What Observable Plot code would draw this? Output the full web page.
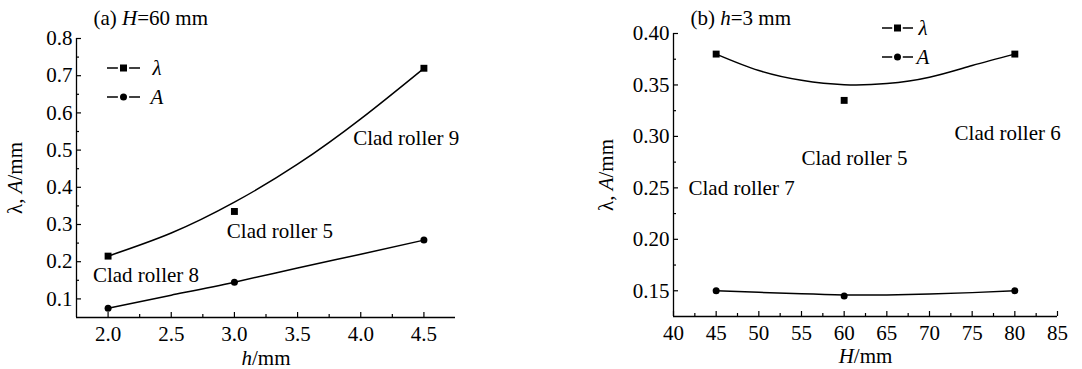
<!DOCTYPE html>
<html>
<head>
<meta charset="utf-8">
<script src="https://cdn.jsdelivr.net/npm/d3@7"></script>
<script src="https://cdn.jsdelivr.net/npm/@observablehq/plot@0.6"></script>
<style>
  html, body { margin: 0; padding: 0; background: #fff; }
  #wrap { display: flex; width: 1082px; height: 369px; }
  #wrap > div { width: 541px; height: 369px; position: relative; }
  svg { display: block; }
</style>
</head>
<body>
<div id="wrap"><div id="pa"></div><div id="pb"></div></div>
<script>
// ---------- Panel (a): H = 60 mm ----------
const hA = [2.0, 3.0, 4.5];
const lambdaA = [0.215, 0.335, 0.720];
const ampA = [0.075, 0.145, 0.258];
const hFitA = [2.0, 2.5, 3.0, 3.5, 4.0, 4.5];
const lambdaFitA = [0.215, 0.277, 0.360, 0.462, 0.584, 0.720];
const ampFitA = [0.075, 0.110, 0.145, 0.183, 0.220, 0.258];
const xTicksA = [2.0, 2.5, 3.0, 3.5, 4.0, 4.5];
const xMinorA = [2.25, 2.75, 3.25, 3.75, 4.25];
const yTicksA = [0.1, 0.2, 0.3, 0.4, 0.5, 0.6, 0.7, 0.8];
const yMinorA = [0.15, 0.25, 0.35, 0.45, 0.55, 0.65, 0.75];
const notesA = [
  {x: 3.94, y: 0.531, text: "Clad roller 9"},
  {x: 2.94, y: 0.283, text: "Clad roller 5"},
  {x: 1.88, y: 0.163, text: "Clad roller 8"}
];

// ---------- Panel (b): h = 3 mm ----------
const HB = [45, 60, 80];
const lambdaB = [0.380, 0.335, 0.380];
const ampB = [0.150, 0.145, 0.150];
const HFitB = [45, 50, 55, 60, 65, 70, 75, 80];
const lambdaFitB = [0.380, 0.364, 0.3545, 0.3502, 0.3513, 0.3575, 0.3689, 0.380];
const ampFitB = [0.150, 0.1485, 0.1470, 0.1460, 0.1460, 0.1468, 0.1482, 0.150];
const xTicksB = [40, 45, 50, 55, 60, 65, 70, 75, 80, 85];
const xMinorB = [42.5, 47.5, 52.5, 57.5, 62.5, 67.5, 72.5, 77.5, 82.5];
const yTicksB = [0.15, 0.20, 0.25, 0.30, 0.35, 0.40];
const yMinorB = [0.175, 0.225, 0.275, 0.325, 0.375];
const notesB = [
  {x: 72.94, y: 0.303, text: "Clad roller 6"},
  {x: 54.99, y: 0.279, text: "Clad roller 5"},
  {x: 41.76, y: 0.250, text: "Clad roller 7"}
];

const FONT = "Liberation Serif, Times New Roman, serif";
const FS = 21;

function zip(xs, ys) { return xs.map((x, i) => ({x, y: ys[i]})); }

function panel(cfg) {
  const W = 541, H = 369;
  const fw = W - cfg.ml - cfg.mr, fh = H - cfg.mt - cfg.mb;
  const chart = Plot.plot({
    width: W, height: H,
    marginLeft: cfg.ml, marginRight: cfg.mr, marginTop: cfg.mt, marginBottom: cfg.mb,
    style: {fontFamily: FONT, fontSize: FS + "px", background: "#fff", color: "#000", overflow: "visible"},
    x: {domain: cfg.xDomain},
    y: {domain: cfg.yDomain},
    marks: [
      Plot.ruleX([cfg.xDomain[0]], {stroke: "#000", strokeWidth: 1.3}),
      Plot.ruleY([cfg.yDomain[0]], {stroke: "#000", strokeWidth: 1.3}),
      Plot.tickX(cfg.xTicks, {x: d => d, insetTop: fh - 5, stroke: "#000", strokeWidth: 1.2}),
      Plot.tickX(cfg.xMinor, {x: d => d, insetTop: fh - 3, stroke: "#000", strokeWidth: 1.2}),
      Plot.tickY(cfg.yTicks, {y: d => d, insetRight: fw - 5, stroke: "#000", strokeWidth: 1.2}),
      Plot.tickY(cfg.yMinor, {y: d => d, insetRight: fw - 3, stroke: "#000", strokeWidth: 1.2}),
      Plot.axisX({ticks: cfg.xTicks, tickSize: 0, tickPadding: 9, tickFormat: cfg.xFmt,
        fontSize: FS, label: cfg.xLabel, labelAnchor: "center", labelOffset: cfg.xLabelOffset, labelArrow: "none"}),
      Plot.axisY({ticks: cfg.yTicks, tickSize: 0, tickPadding: 4, tickFormat: cfg.yFmt,
        fontSize: FS, label: "λ, A/mm", labelAnchor: "center", labelOffset: cfg.yLabelOffset, labelArrow: "none"}),
      Plot.line(zip(cfg.fitX, cfg.lambdaFit), {x: "x", y: "y", curve: "natural", stroke: "#000", strokeWidth: 1.5}),
      Plot.line(zip(cfg.fitX, cfg.ampFit), {x: "x", y: "y", curve: "natural", stroke: "#000", strokeWidth: 1.5}),
      Plot.dot(zip(cfg.px, cfg.lambda), {x: "x", y: "y", symbol: "square", r: 3.9, fill: "#000", stroke: "none"}),
      Plot.dot(zip(cfg.px, cfg.amp), {x: "x", y: "y", r: 3.5, fill: "#000", stroke: "none"}),
      Plot.text(cfg.notes, {x: "x", y: "y", text: "text", textAnchor: "start", lineAnchor: "middle", fontSize: FS, fill: "#000"}),
      Plot.text([cfg.title], {frameAnchor: "top-left", dx: cfg.titleDx, dy: cfg.titleDy, textAnchor: "start", lineAnchor: "middle", fontSize: FS, fill: "#000"})
    ]
  });
  const svg = d3.select(chart);
  // rich text (italic parts)
  svg.selectAll("text").each(function() {
    const t = this.textContent;
    const rich = cfg.rich[t];
    if (!rich) return;
    const el = d3.select(this);
    el.selectAll("*").remove();
    el.text(null);
    rich.forEach(([s, it]) => el.append("tspan").attr("font-style", it ? "italic" : "normal").text(s));
  });
  // legend
  const lg = svg.append("g").attr("transform", `translate(${cfg.ml},${cfg.mt})`)
    .attr("font-family", FONT).attr("font-size", FS);
  const items = [{sym: "square", lab: "λ", y: cfg.legY[0]}, {sym: "circle", lab: "A", y: cfg.legY[1]}];
  const L = cfg.legLen, x0 = cfg.legX;
  items.forEach(it => {
    lg.append("line").attr("x1", x0).attr("x2", x0 + L * 0.33).attr("y1", it.y).attr("y2", it.y).attr("stroke", "#000").attr("stroke-width", 1.5);
    lg.append("line").attr("x1", x0 + L * 0.67).attr("x2", x0 + L).attr("y1", it.y).attr("y2", it.y).attr("stroke", "#000").attr("stroke-width", 1.5);
    if (it.sym === "square") lg.append("rect").attr("x", x0 + L / 2 - 3.5).attr("y", it.y - 3.5).attr("width", 7).attr("height", 7).attr("fill", "#000");
    else lg.append("circle").attr("cx", x0 + L / 2).attr("cy", it.y).attr("r", 3.5).attr("fill", "#000");
    lg.append("text").attr("x", x0 + cfg.legText).attr("y", it.y).attr("dy", "0.35em").attr("font-style", "italic").text(it.lab);
  });
  return chart;
}

const richCommon = {"λ, A/mm": [["λ, ", false], ["A", true], ["/mm", false]]};

document.getElementById("pa").appendChild(panel({
  ml: 76, mr: 86, mt: 38, mb: 52,
  xDomain: [1.75, 4.75], yDomain: [0.05, 0.8],
  xTicks: xTicksA, xMinor: xMinorA, yTicks: yTicksA, yMinor: yMinorA,
  xFmt: d3.format(".1f"), yFmt: d3.format(".1f"),
  xLabel: "h/mm", xLabelOffset: 47, yLabelOffset: 69,
  px: hA, lambda: lambdaA, amp: ampA, fitX: hFitA, lambdaFit: lambdaFitA, ampFit: ampFitA,
  notes: notesA, title: "(a) H=60 mm", titleDx: 17, titleDy: -20,
  legX: 31, legY: [30, 59], legLen: 33, legText: 50,
  rich: Object.assign({"h/mm": [["h", true], ["/mm", false]], "(a) H=60 mm": [["(a) ", false], ["H", true], ["=60 mm", false]]}, richCommon)
}));

document.getElementById("pb").appendChild(panel({
  ml: 132, mr: 25, mt: 33, mb: 53,
  xDomain: [40, 85], yDomain: [0.125, 0.40],
  xTicks: xTicksB, xMinor: xMinorB, yTicks: yTicksB, yMinor: yMinorB,
  xFmt: d3.format("d"), yFmt: d3.format(".2f"),
  xLabel: "H/mm", xLabelOffset: 46, yLabelOffset: 75,
  px: HB, lambda: lambdaB, amp: ampB, fitX: HFitB, lambdaFit: lambdaFitB, ampFit: ampFitB,
  notes: notesB, title: "(b) h=3 mm", titleDx: 17, titleDy: -15,
  legX: 209, legY: [-5, 24], legLen: 31, legText: 41,
  rich: Object.assign({"H/mm": [["H", true], ["/mm", false]], "(b) h=3 mm": [["(b) ", false], ["h", true], ["=3 mm", false]]}, richCommon)
}));
</script>
</body>
</html>
